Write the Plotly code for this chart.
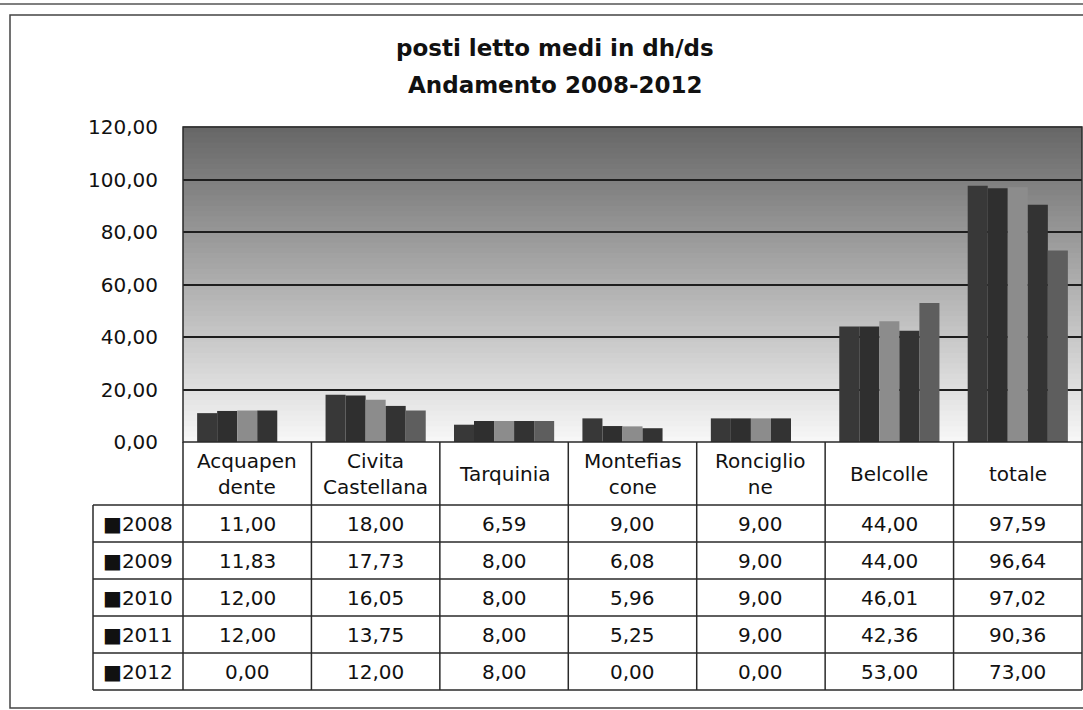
import plotly.graph_objects as go

# ---------------- data ----------------
categories = ["Acquapendente", "Civita Castellana", "Tarquinia", "Montefiascone",
              "Ronciglione", "Belcolle", "totale"]
header_labels = ["Acquapen<br>dente", "Civita<br>Castellana", "Tarquinia",
                 "Montefias<br>cone", "Ronciglio<br>ne", "Belcolle", "totale"]
years = ["2008", "2009", "2010", "2011", "2012"]
v2008 = [11.00, 18.00, 6.59, 9.00, 9.00, 44.00, 97.59]
v2009 = [11.83, 17.73, 8.00, 6.08, 9.00, 44.00, 96.64]
v2010 = [12.00, 16.05, 8.00, 5.96, 9.00, 46.01, 97.02]
v2011 = [12.00, 13.75, 8.00, 5.25, 9.00, 42.36, 90.36]
v2012 = [0.00, 12.00, 8.00, 0.00, 0.00, 53.00, 73.00]
series = [v2008, v2009, v2010, v2011, v2012]
y_ticks = [0, 20, 40, 60, 80, 100, 120]
title_lines = ["posti letto medi in dh/ds", "Andamento 2008-2012"]

# ---------------- style ----------------
W, H = 1083, 710
L, R, T, B = 183, 1082, 127, 442          # plot area in pixels
bar_colors = ["#383838", "#2f2f2f", "#8c8c8c", "#333333", "#5e5e5e"]
FONT = "DejaVu Sans"
LINE = "#2a2a2a"
TXT = 20


def px(x):
    return (x - L) / (R - L)


def py(y):
    return (B - y) / (B - T)


def fmt(v):
    return f"{v:.2f}".replace(".", ",")


fig = go.Figure()
for yr, vals, col in zip(years, series, bar_colors):
    fig.add_trace(go.Bar(x=categories, y=vals, name=yr,
                         marker=dict(color=col, line=dict(width=0))))

shapes = []
# gradient background bands
n = 60
top_c, bot_c = 0x66, 0xf8
for i in range(n):
    f0 = i / n
    f1 = (i + 1) / n
    g = int(round(bot_c + (top_c - bot_c) * (f0 + f1) / 2))
    col = f"rgb({g},{g},{g})"
    shapes.append(dict(type="rect", xref="paper", yref="paper", x0=0, x1=1,
                       y0=f0, y1=f1 + 0.002, fillcolor=col, line=dict(width=0),
                       layer="below"))

# outer frames
shapes.append(dict(type="line", xref="paper", yref="paper", x0=px(0), x1=px(W),
                   y0=py(4), y1=py(4), line=dict(color="#555", width=1.5)))
shapes.append(dict(type="rect", xref="paper", yref="paper", x0=px(10), x1=px(W + 10),
                   y0=py(708), y1=py(15), line=dict(color="#444", width=1.5)))
# plot border
shapes.append(dict(type="rect", xref="paper", yref="paper", x0=0, x1=1, y0=0, y1=1,
                   line=dict(color=LINE, width=1.5)))

# table geometry
row_tops = [505, 542, 579, 616, 653, 690]
tab_left = 93
col_w = (R - L) / len(categories)
for k in range(len(categories) + 1):
    x = L + k * col_w
    shapes.append(dict(type="line", xref="paper", yref="paper", x0=px(x), x1=px(x),
                       y0=py(B), y1=py(row_tops[-1]), line=dict(color=LINE, width=1.5)))
shapes.append(dict(type="line", xref="paper", yref="paper", x0=px(tab_left), x1=px(tab_left),
                   y0=py(row_tops[0]), y1=py(row_tops[-1]), line=dict(color=LINE, width=1.5)))
for yv in row_tops:
    shapes.append(dict(type="line", xref="paper", yref="paper", x0=px(tab_left), x1=px(R),
                       y0=py(yv), y1=py(yv), line=dict(color=LINE, width=1.5)))

annotations = []
for line, yc in zip(title_lines, [48, 85]):
    annotations.append(dict(text=f"<b>{line}</b>", xref="paper", yref="paper",
                            x=px(555), y=py(yc), xanchor="center", yanchor="middle",
                            showarrow=False, font=dict(family=FONT, size=23, color="#111")))
for cat, lab in zip(categories, header_labels):
    annotations.append(dict(text=lab, xref="x", yref="paper", x=cat,
                            y=py((B + row_tops[0]) / 2), xanchor="center", yanchor="middle",
                            showarrow=False, font=dict(family=FONT, size=TXT, color="#111")))
for r, (yr, vals) in enumerate(zip(years, series)):
    yc = (row_tops[r] + row_tops[r + 1]) / 2
    annotations.append(dict(text=f"■{yr}", xref="paper", yref="paper",
                            x=px((tab_left + L) / 2), y=py(yc), xanchor="center",
                            yanchor="middle", showarrow=False,
                            font=dict(family=FONT, size=TXT, color="#111")))
    for cat, v in zip(categories, vals):
        annotations.append(dict(text=fmt(v), xref="x", yref="paper", x=cat, y=py(yc),
                                xanchor="center", yanchor="middle", showarrow=False,
                                font=dict(family=FONT, size=TXT, color="#111")))

fig.update_layout(
    width=W, height=H,
    margin=dict(l=L, r=W - R, t=T, b=H - B, autoexpand=False),
    paper_bgcolor="white", plot_bgcolor="rgba(0,0,0,0)",
    barmode="group", bargap=0.22, bargroupgap=0,
    showlegend=False,
    separators=",.",
    shapes=shapes, annotations=annotations,
    xaxis=dict(showticklabels=False, showgrid=False, zeroline=False, showline=False,
               ticks=""),
    yaxis=dict(range=[0, 120], tickvals=y_ticks, tickformat=".2f", showgrid=True,
               gridcolor="#1e1e1e", gridwidth=1.8, zeroline=False, showline=False,
               ticks="", ticklabelstandoff=24,
               tickfont=dict(family=FONT, size=TXT, color="#111")),
)

fig.write_html("out.html", config={"displayModeBar": False},
               post_script="document.body.style.margin='0px';")
